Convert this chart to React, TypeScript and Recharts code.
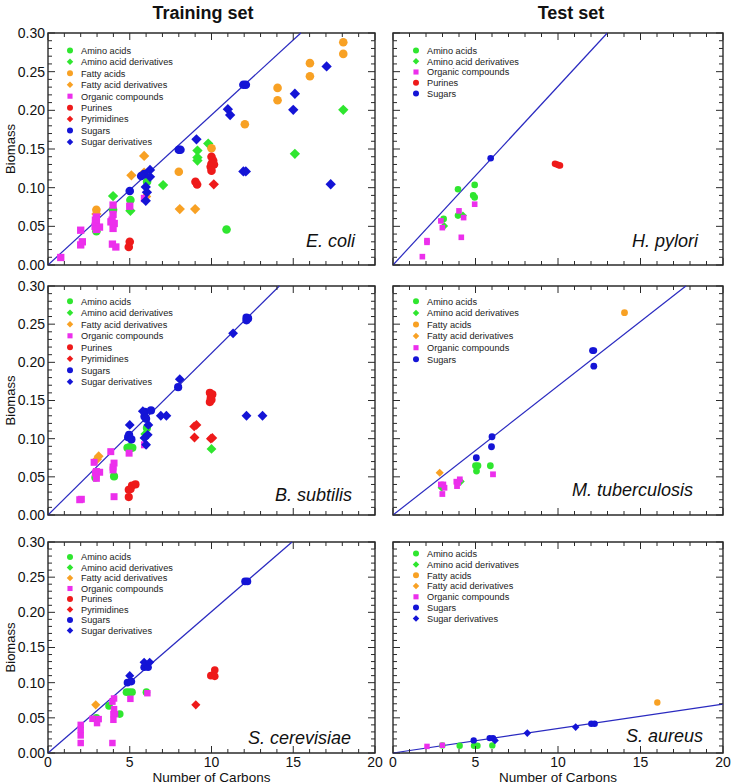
import React from 'react';
import { ScatterChart, Scatter, XAxis, YAxis, ReferenceArea, ReferenceLine } from 'recharts';

const FONT = '"Liberation Sans", Arial, Helvetica, sans-serif';
const GREEN = '#2fe62f';
const ORANGE = '#f8a124';
const MAGENTA = '#ec2fec';
const RED = '#ee1a1a';
const BLUE = '#1414d6';
const LINE = '#2a2ac0';
const AXIS = '#2b2b2b';

type Pt = [number, number];
type Kind = 'circle' | 'diamond' | 'square';

// axis ticks (minor + major)
const xTicks = [0, 1, 2, 3, 4, 5, 6, 7, 8, 9, 10, 11, 12, 13, 14, 15, 16, 17, 18, 19, 20];
const yTicks = [0, 0.01, 0.02, 0.03, 0.04, 0.05, 0.06, 0.07, 0.08, 0.09, 0.1, 0.11, 0.12, 0.13, 0.14, 0.15,
  0.16, 0.17, 0.18, 0.19, 0.2, 0.21, 0.22, 0.23, 0.24, 0.25, 0.26, 0.27, 0.28, 0.29, 0.3];

const CATS: Record<string, { name: string; color: string; kind: Kind }> = {
  aa: { name: 'Amino acids', color: GREEN, kind: 'circle' },
  aad: { name: 'Amino acid derivatives', color: GREEN, kind: 'diamond' },
  fa: { name: 'Fatty acids', color: ORANGE, kind: 'circle' },
  fad: { name: 'Fatty acid derivatives', color: ORANGE, kind: 'diamond' },
  org: { name: 'Organic compounds', color: MAGENTA, kind: 'square' },
  pur: { name: 'Purines', color: RED, kind: 'circle' },
  pyr: { name: 'Pyrimidines', color: RED, kind: 'diamond' },
  sug: { name: 'Sugars', color: BLUE, kind: 'circle' },
  sugd: { name: 'Sugar derivatives', color: BLUE, kind: 'diamond' },
};

// ---- E. coli (training) ----
const ecoliAminoAcids: Pt[] = [[2.96, 0.0436], [3.98, 0.0713], [5.04, 0.084], [6.06, 0.1077], [10.92, 0.046]];
const ecoliAminoAcidDerivs: Pt[] = [[3.98, 0.0891], [5.04, 0.07], [7.04, 0.1034], [9.8, 0.157], [9.14, 0.148],
  [9.14, 0.139], [9.14, 0.135], [15.1, 0.1437], [18.06, 0.2007]];
const ecoliFattyAcids: Pt[] = [[2.96, 0.0713], [8.0, 0.1206], [10.0, 0.151], [12.04, 0.182], [14.04, 0.229],
  [14.04, 0.213], [16.02, 0.261], [16.02, 0.244], [18.06, 0.288], [18.06, 0.273]];
const ecoliFattyAcidDerivs: Pt[] = [[5.1, 0.116], [5.88, 0.141], [5.88, 0.1195], [8.06, 0.0723], [9.0, 0.0723],
  [6.0, 0.0885], [2.96, 0.066]];
const ecoliOrganic: Pt[] = [[0.78, 0.0097], [2.0, 0.045], [2.1, 0.03], [2.0, 0.026], [2.96, 0.062], [2.9, 0.058],
  [2.96, 0.054], [2.88, 0.05], [3.15, 0.049], [2.96, 0.046], [3.98, 0.0775], [3.98, 0.0654], [3.92, 0.058],
  [3.85, 0.0558], [4.05, 0.0537], [3.98, 0.0473], [3.94, 0.027], [4.15, 0.0233], [5.0, 0.076], [5.9, 0.086]];
const ecoliPurines: Pt[] = [[10.0, 0.14], [10.1, 0.135], [10.0, 0.131], [10.15, 0.13], [9.95, 0.127], [10.0, 0.122],
  [9.02, 0.1077], [9.12, 0.104], [5.0, 0.03], [4.94, 0.0233]];
const ecoliPyrimidines: Pt[] = [[10.14, 0.1043]];
const ecoliSugars: Pt[] = [[5.0, 0.0956], [5.88, 0.1175], [5.7, 0.115], [8.0, 0.149], [8.1, 0.149], [11.95, 0.233], [12.1, 0.233]];
const ecoliSugarDerivs: Pt[] = [[6.24, 0.123], [6.24, 0.114], [5.98, 0.101], [6.05, 0.094], [5.98, 0.083],
  [9.08, 0.1625], [11.0, 0.2015], [11.14, 0.194], [11.95, 0.121], [12.1, 0.121], [15.0, 0.2007], [15.1, 0.2214],
  [17.04, 0.2568], [17.29, 0.1044]];

// ---- H. pylori (test) ----
const hpyAminoAcids: Pt[] = [[3.94, 0.098], [4.95, 0.1036], [4.86, 0.09], [4.95, 0.0874], [3.94, 0.0639], [3.07, 0.0596]];
const hpyAminoAcidDerivs: Pt[] = [[4.24, 0.0639], [3.1, 0.0505]];
const hpyOrganic: Pt[] = [[1.78, 0.0108], [2.06, 0.0315], [2.06, 0.0293], [2.9, 0.057], [2.99, 0.0483], [4.0, 0.07],
  [4.28, 0.0613], [4.14, 0.0358], [4.95, 0.0786]];
const hpyPurines: Pt[] = [[9.82, 0.1308], [9.95, 0.13], [10.05, 0.129], [10.12, 0.1286]];
const hpySugars: Pt[] = [[5.92, 0.138]];

// ---- B. subtilis (training) ----
const bsuAminoAcids: Pt[] = [[2.9, 0.049], [4.04, 0.0505], [4.86, 0.088], [5.0, 0.089], [5.16, 0.088], [6.05, 0.114]];
const bsuAminoAcidDerivs: Pt[] = [[10.0, 0.0866], [5.95, 0.106]];
const bsuFattyAcidDerivs: Pt[] = [[3.0, 0.073], [3.1, 0.077]];
const bsuOrganic: Pt[] = [[1.94, 0.02], [2.04, 0.0206], [2.82, 0.069], [2.96, 0.057], [3.16, 0.056], [2.9, 0.055],
  [2.96, 0.048], [3.84, 0.083], [4.04, 0.068], [3.98, 0.0628], [3.98, 0.059], [4.04, 0.024], [4.96, 0.081], [5.9, 0.092]];
const bsuPurines: Pt[] = [[4.94, 0.0235], [4.94, 0.033], [5.14, 0.0385], [5.35, 0.04], [5.05, 0.034], [9.9, 0.16],
  [10.05, 0.158], [9.95, 0.153], [9.9, 0.148], [10.0, 0.151]];
const bsuPyrimidines: Pt[] = [[8.94, 0.116], [9.08, 0.118], [8.96, 0.1015], [9.96, 0.1], [10.05, 0.101]];
const bsuSugars: Pt[] = [[4.96, 0.105], [4.9, 0.102], [5.1, 0.099], [5.92, 0.135], [5.9, 0.129], [6.0, 0.126],
  [6.3, 0.137], [7.96, 0.1674], [12.14, 0.2585], [12.24, 0.2575], [12.14, 0.255]];
const bsuSugarDerivs: Pt[] = [[5.0, 0.118], [5.8, 0.136], [6.14, 0.118], [6.1, 0.105], [5.9, 0.101], [6.0, 0.092],
  [6.9, 0.13], [7.24, 0.13], [8.06, 0.178], [11.32, 0.238], [12.14, 0.13], [13.12, 0.13]];

// ---- M. tuberculosis (test) ----
const mtbAminoAcids: Pt[] = [[5.0, 0.0645], [5.15, 0.0645], [5.06, 0.0576], [5.9, 0.0645]];
const mtbAminoAcidDerivs: Pt[] = [[2.95, 0.0357], [4.1, 0.044]];
const mtbFattyAcids: Pt[] = [[14.03, 0.265]];
const mtbFattyAcidDerivs: Pt[] = [[2.83, 0.0554]];
const mtbOrganic: Pt[] = [[2.9, 0.04], [3.05, 0.04], [3.12, 0.0357], [2.99, 0.0275], [3.84, 0.0436], [4.05, 0.0467],
  [3.88, 0.0379], [3.95, 0.042], [6.06, 0.0533]];
const mtbSugars: Pt[] = [[5.05, 0.075], [5.97, 0.0894], [6.0, 0.1025], [12.09, 0.2154], [12.17, 0.2154], [12.17, 0.195]];

// ---- S. cerevisiae (training) ----
const sceAminoAcids: Pt[] = [[2.96, 0.05], [3.73, 0.067], [4.39, 0.0553], [4.8, 0.0865], [4.97, 0.0865],
  [5.14, 0.0865], [6.02, 0.0865]];
const sceAminoAcidDerivs: Pt[] = [];
const sceFattyAcidDerivs: Pt[] = [[2.92, 0.0685]];
const sceOrganic: Pt[] = [[2.0, 0.04], [2.0, 0.0328], [2.0, 0.025], [2.0, 0.0142], [2.72, 0.0486], [3.1, 0.0482],
  [3.0, 0.0425], [3.94, 0.073], [4.04, 0.0775], [4.04, 0.0624], [4.0, 0.0553], [4.1, 0.0553], [4.0, 0.0472],
  [3.94, 0.0142], [5.04, 0.077], [6.08, 0.085]];
const scePurines: Pt[] = [[9.96, 0.11], [10.1, 0.111], [10.2, 0.118], [10.2, 0.109]];
const scePyrimidines: Pt[] = [[9.04, 0.0685]];
const sceSugars: Pt[] = [[4.86, 0.1], [5.1, 0.1015], [5.88, 0.122], [6.12, 0.122], [12.05, 0.244], [12.2, 0.244]];
const sceSugarDerivs: Pt[] = [[5.0, 0.11], [5.88, 0.129], [6.22, 0.129]];

// ---- S. aureus (test) ----
const sauAminoAcids: Pt[] = [[2.99, 0.0108], [4.04, 0.0104], [4.91, 0.0104], [5.12, 0.0104], [6.02, 0.0108]];
const sauAminoAcidDerivs: Pt[] = [];
const sauFattyAcids: Pt[] = [[16.02, 0.0718]];
const sauFattyAcidDerivs: Pt[] = [];
const sauOrganic: Pt[] = [[2.06, 0.0094], [2.99, 0.011]];
const sauSugars: Pt[] = [[4.89, 0.0179], [5.86, 0.0212], [6.06, 0.0212], [12.02, 0.0415], [12.22, 0.0415]];
const sauSugarDerivs: Pt[] = [[6.18, 0.0179], [8.14, 0.0283], [11.07, 0.0368]];

// fitted line slopes (biomass per carbon)
const ecoliSlope = 0.0194;
const hpySlope = 0.0231;
const bsuSlope = 0.0212;
const mtbSlope = 0.0169;
const sceSlope = 0.0201;
const sauSlope = 0.00348;

interface Panel {
  species: string;
  slope: number;
  left: number; top: number; w: number; h: number;
  yLabels: boolean; xLabels: boolean;
  r: number;
  series: [string, Pt[]][];
  legDy: number; legStep: number;
  spInset: number; spRise: number;
}

const panels: Panel[] = [
  {
    species: 'E. coli', slope: ecoliSlope, left: 48, top: 33, w: 327, h: 232, yLabels: true, xLabels: false, r: 4.3,
    series: [['aa', ecoliAminoAcids], ['aad', ecoliAminoAcidDerivs], ['fa', ecoliFattyAcids], ['fad', ecoliFattyAcidDerivs],
      ['org', ecoliOrganic], ['pur', ecoliPurines], ['pyr', ecoliPyrimidines], ['sug', ecoliSugars], ['sugd', ecoliSugarDerivs]],
    legDy: 17.4, legStep: 11.45, spInset: 20, spRise: 18.5,
  },
  {
    species: 'H. pylori', slope: hpySlope, left: 393, top: 33, w: 330, h: 232, yLabels: false, xLabels: false, r: 3.3,
    series: [['aa', hpyAminoAcids], ['aad', hpyAminoAcidDerivs], ['org', hpyOrganic], ['pur', hpyPurines], ['sug', hpySugars]],
    legDy: 17.4, legStep: 10.8, spInset: 25, spRise: 18.5,
  },
  {
    species: 'B. subtilis', slope: bsuSlope, left: 48, top: 286, w: 327, h: 229, yLabels: true, xLabels: false, r: 4.1,
    series: [['aa', bsuAminoAcids], ['aad', bsuAminoAcidDerivs], ['fad', bsuFattyAcidDerivs], ['org', bsuOrganic],
      ['pur', bsuPurines], ['pyr', bsuPyrimidines], ['sug', bsuSugars], ['sugd', bsuSugarDerivs]],
    legDy: 15.3, legStep: 11.5, spInset: 23, spRise: 14.5,
  },
  {
    species: 'M. tuberculosis', slope: mtbSlope, left: 393, top: 286, w: 330, h: 229, yLabels: false, xLabels: false, r: 3.4,
    series: [['aa', mtbAminoAcids], ['aad', mtbAminoAcidDerivs], ['fa', mtbFattyAcids], ['fad', mtbFattyAcidDerivs],
      ['org', mtbOrganic], ['sug', mtbSugars]],
    legDy: 15.3, legStep: 11.6, spInset: 30, spRise: 19.5,
  },
  {
    species: 'S. cerevisiae', slope: sceSlope, left: 48, top: 542, w: 327, h: 211, yLabels: true, xLabels: true, r: 3.8,
    series: [['aa', sceAminoAcids], ['aad', sceAminoAcidDerivs], ['fad', sceFattyAcidDerivs], ['org', sceOrganic],
      ['pur', scePurines], ['pyr', scePyrimidines], ['sug', sceSugars], ['sugd', sceSugarDerivs]],
    legDy: 15, legStep: 10.5, spInset: 24, spRise: 9.5,
  },
  {
    species: 'S. aureus', slope: sauSlope, left: 393, top: 542, w: 330, h: 211, yLabels: false, xLabels: true, r: 3.2,
    series: [['aa', sauAminoAcids], ['aad', sauAminoAcidDerivs], ['fa', sauFattyAcids], ['fad', sauFattyAcidDerivs],
      ['org', sauOrganic], ['sug', sauSugars], ['sugd', sauSugarDerivs]],
    legDy: 11.6, legStep: 10.8, spInset: 20, spRise: 11,
  },
];

const MT = 8;
const MR = 14;

function Marker({ kind, cx, cy, r, color }: { kind: Kind; cx: number; cy: number; r: number; color: string }) {
  if (kind === 'circle') return <circle cx={cx} cy={cy} r={r} fill={color} />;
  if (kind === 'square') {
    const s = r * 0.85;
    return <rect x={cx - s} y={cy - s} width={2 * s} height={2 * s} fill={color} />;
  }
  const d = r * 1.2;
  return <polygon points={`${cx},${cy - d} ${cx + d},${cy} ${cx},${cy + d} ${cx - d},${cy}`} fill={color} />;
}

const isMajorY = (v: number) => Math.abs(v * 20 - Math.round(v * 20)) < 1e-6;

function PanelChart({ p }: { p: Panel }) {
  const yw = p.yLabels ? 48 : 10;
  const xh = p.xLabels ? 36 : 14;
  const width = yw + p.w + MR;
  const height = MT + p.h + xh;
  const top = MT;
  const bottom = MT + p.h;
  const lft = yw;
  const rgt = yw + p.w;
  const xe = Math.min(20, 0.3 / p.slope);

  const xTick = (props: any) => {
    const { x, payload } = props;
    const v = payload.value as number;
    const major = v % 5 === 0;
    const len = major ? 7 : 4;
    return (
      <g>
        <line x1={x} x2={x} y1={bottom} y2={bottom - len} stroke={AXIS} strokeWidth={1} />
        <line x1={x} x2={x} y1={top} y2={top + len} stroke={AXIS} strokeWidth={1} />
        {p.xLabels && major && (
          <text x={x} y={bottom + 13.7} textAnchor="middle" fontSize={14} fill="#111" fontFamily={FONT}>{v}</text>
        )}
      </g>
    );
  };

  const yTick = (props: any) => {
    const { y, payload } = props;
    const v = payload.value as number;
    const major = isMajorY(v);
    const len = major ? 7 : 4;
    return (
      <g>
        <line x1={lft} x2={lft + len} y1={y} y2={y} stroke={AXIS} strokeWidth={1} />
        <line x1={rgt - len} x2={rgt} y1={y} y2={y} stroke={AXIS} strokeWidth={1} />
        {p.yLabels && major && (
          <text x={lft - 3} y={y + 4.9} textAnchor="end" fontSize={14} fill="#111" fontFamily={FONT}>{v.toFixed(2)}</text>
        )}
      </g>
    );
  };

  return (
    <div style={{ position: 'absolute', left: p.left - yw, top: p.top - MT }}>
      <ScatterChart width={width} height={height} margin={{ top: MT, right: MR, left: 0, bottom: 0 }}>
        <XAxis
          type="number" dataKey="x" domain={[0, 20]} ticks={xTicks} interval={0} height={xh}
          axisLine={false} tickLine={false} tickSize={0} tickMargin={0} tick={xTick}
          label={p.xLabels ? { value: 'Number of Carbons', position: 'insideBottom', offset: 7, fontSize: 13.5, fill: '#111', fontFamily: FONT } : undefined}
        />
        <YAxis
          type="number" dataKey="y" domain={[0, 0.3]} ticks={yTicks} interval={0} width={yw}
          axisLine={false} tickLine={false} tickSize={0} tickMargin={0} tick={yTick}
          label={p.yLabels ? { value: 'Biomass', angle: -90, position: 'insideLeft', offset: 10, fontSize: 13, fill: '#111', fontFamily: FONT, style: { textAnchor: 'middle' } } : undefined}
        />
        <ReferenceArea x1={0} x2={20} y1={0} y2={0.3} fill="none" fillOpacity={0} stroke={AXIS} strokeWidth={1.4} ifOverflow="visible" />
        <ReferenceLine segment={[{ x: 0, y: 0 }, { x: xe, y: p.slope * xe }]} stroke={LINE} strokeWidth={1.2} ifOverflow="visible" />
        {p.series.map(([key, pts]) => {
          const c = CATS[key];
          return (
            <Scatter
              key={key}
              name={c.name}
              data={pts.map(([x, y]) => ({ x, y }))}
              isAnimationActive={false}
              shape={(sp: any) => <Marker kind={c.kind} cx={sp.cx} cy={sp.cy} r={p.r} color={c.color} />}
            />
          );
        })}
      </ScatterChart>
    </div>
  );
}

function Overlay() {
  return (
    <svg width={737} height={784} style={{ position: 'absolute', left: 0, top: 0, pointerEvents: 'none' }}>
      <text x={203} y={18.5} textAnchor="middle" fontSize={18} fontWeight="bold" fontFamily={FONT} fill="#111">Training set</text>
      <text x={571} y={18.5} textAnchor="middle" fontSize={18} fontWeight="bold" fontFamily={FONT} fill="#111">Test set</text>
      {panels.map((p) => {
        const mx = p.left + (p.yLabels ? 22 : 23);
        return (
          <g key={p.species}>
            {p.series.map(([key], i) => {
              const c = CATS[key];
              const cy = p.top + p.legDy + i * p.legStep;
              return (
                <g key={key}>
                  <Marker kind={c.kind} cx={mx} cy={cy} r={c.kind === 'diamond' ? 2.7 : 3} color={c.color} />
                  <text x={mx + 11} y={cy + 3.3} fontSize={9.2} fontFamily={FONT} fill="#222">{c.name}</text>
                </g>
              );
            })}
            <text x={p.left + p.w - p.spInset} y={p.top + p.h - p.spRise} textAnchor="end" fontSize={18}
              fontStyle="italic" fontFamily={FONT} fill="#111">{p.species}</text>
          </g>
        );
      })}
    </svg>
  );
}

export default function App() {
  return (
    <div style={{ position: 'absolute', left: 0, top: 0, width: 737, height: 784, background: '#fff', fontFamily: FONT }}>
      {panels.map((p) => <PanelChart key={p.species} p={p} />)}
      <Overlay />
    </div>
  );
}
